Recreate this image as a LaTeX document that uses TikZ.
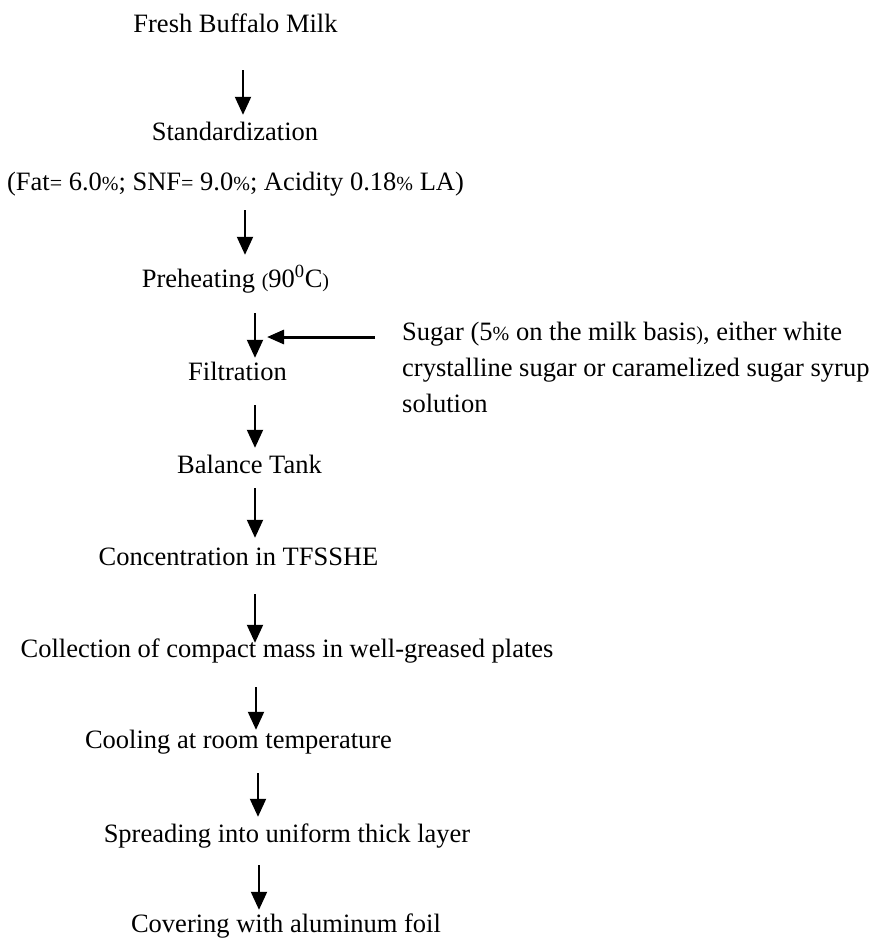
\documentclass[tikz,border=0pt]{standalone}
\usepackage{fontspec}
\setmainfont{Liberation Serif}
\usetikzlibrary{positioning,arrows.meta,calc}
\newcommand{\pc}{{\fontsize{20}{20}\selectfont\%}}
\newcommand{\eqs}{{\fontsize{22}{22}\selectfont=}}
\newcommand{\smp}[1]{{\fontsize{20}{20}\selectfont#1}}

\begin{document}
\begin{tikzpicture}[
    x=1pt, y=1pt,
    font=\fontsize{26.5}{36}\selectfont,
    stage/.style={inner sep=0pt, anchor=base, text height=19pt, text depth=6pt},
    note/.style={inner sep=0pt, anchor=north west, align=left},
    flow/.style={-{Triangle[length=18pt, width=16pt]}, line width=2pt},
    feed/.style={-{Triangle[length=17pt, width=14pt]}, line width=3pt},
]
\useasboundingbox (0,0) rectangle (880,-938);

% ---- Process stages ----
\node[stage] (milk)    at (235.5,-32)  {Fresh Buffalo Milk};
\node[stage] (std)     at (235,-140)   {Standardization};
\node[stage] (spec)    at (235.5,-190) {(Fat\eqs{} 6.0\pc; SNF\eqs{} 9.0\pc; Acidity 0.18\pc{} LA)};
\node[stage] (preheat) at (235.5,-287) {Preheating \smp{(}90\textsuperscript{0}C\smp{)}};
\node[stage] (filt)    at (237.5,-380) {Filtration};
\node[stage] (tank)    at (249.5,-473) {Balance Tank};
\node[stage] (conc)    at (238.5,-565) {Concentration in TFSSHE};
\node[stage] (collect) at (287,-657)   {Collection of compact mass in well-greased plates};
\node[stage] (cool)    at (238.5,-748) {Cooling at room temperature};
\node[stage] (spread)  at (287,-842)   {Spreading into uniform thick layer};
\node[stage] (cover)   at (286,-932)   {Covering with aluminum foil};

% ---- Sugar addition ----
\node[note] (sugar) at (402,-321.5) {Sugar (5\pc{} on the milk basis\smp{)}, either white\\
  crystalline sugar or caramelized sugar syrup\\
  solution};

% ---- Flow arrows ----
\draw[flow, shorten <=32pt, shorten >=6pt]  ([xshift=7.5pt]milk.south)    -- ([xshift=7.5pt]milk.south |- std.north);
\draw[flow, shorten <=14pt, shorten >=13pt] ([xshift=9.5pt]spec.south)    -- ([xshift=9.5pt]spec.south |- preheat.north);
\draw[flow, shorten <=20pt, shorten >=3pt]  ([xshift=19.5pt]preheat.south) -- ([xshift=19.5pt]preheat.south |- filt.north);
\draw[flow, shorten <=19pt, shorten >=6pt]  ([xshift=17.5pt]filt.south)   -- ([xshift=17.5pt]filt.south |- tank.north);
\draw[flow, shorten <=9pt, shorten >=8pt]   ([xshift=5.5pt]tank.south)    -- ([xshift=5.5pt]tank.south |- conc.north);
\draw[flow, shorten <=23pt, shorten >=-5pt] ([xshift=16.5pt]conc.south)   -- ([xshift=16.5pt]conc.south |- collect.north);
\draw[flow, shorten <=24pt, shorten >=-1pt] ([xshift=-31pt]collect.south) -- ([xshift=-31pt]collect.south |- cool.north);
\draw[flow, shorten <=19pt, shorten >=6pt]  ([xshift=19.5pt]cool.south)   -- ([xshift=19.5pt]cool.south |- spread.north);
\draw[flow, shorten <=17pt, shorten >=3pt]  ([xshift=-28pt]spread.south)  -- ([xshift=-28pt]spread.south |- cover.north);

% ---- Sugar feed arrow ----
\coordinate (mix) at ([xshift=19.5pt, yshift=-15.5pt]preheat.south |- sugar.north);
\draw[feed, shorten <=27pt, shorten >=12pt] (sugar.west |- mix) -- (mix);

\end{tikzpicture}
\end{document}
